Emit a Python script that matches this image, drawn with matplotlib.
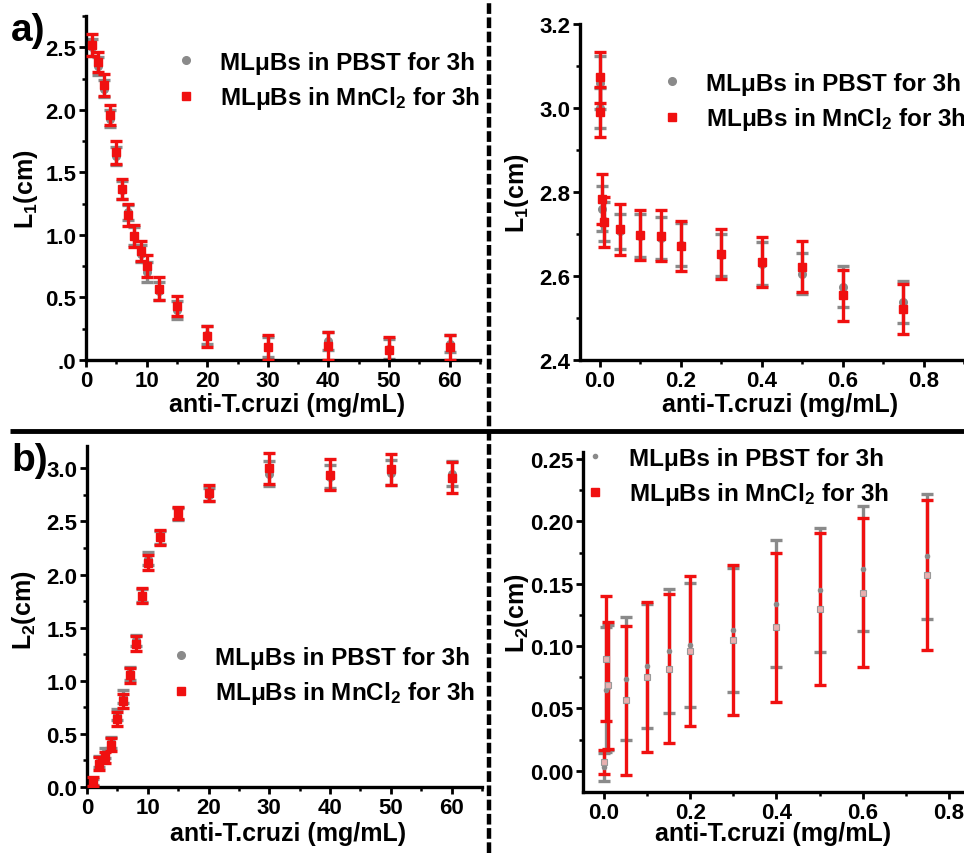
import matplotlib
matplotlib.use('Agg')
import matplotlib.pyplot as plt
from matplotlib.ticker import MultipleLocator, FuncFormatter

W, H = 964, 854
plt.rcParams['font.family'] = ['Liberation Sans', 'DejaVu Sans']
plt.rcParams['font.weight'] = 'bold'
plt.rcParams['mathtext.fontset'] = 'custom'
plt.rcParams['mathtext.rm'] = 'Liberation Sans:bold'
plt.rcParams['mathtext.bf'] = 'Liberation Sans:bold'
plt.rcParams['mathtext.it'] = 'Liberation Sans:bold'

RED = '#f01010'
GRAY = '#8a8a8a'
LBL_PBST = 'MLμBs in PBST for 3h'
LBL_MN = 'MLμBs in MnCl$_2$ for 3h'
XLABEL = 'anti-T.cruzi (mg/mL)'

# ---- panel a) left ----
a_x = [1, 2, 3, 4, 5, 6, 7, 8, 9, 10, 12, 15, 20, 30, 40, 50, 60]
a_red = [2.52, 2.38, 2.20, 1.96, 1.66, 1.37, 1.16, 0.99, 0.87, 0.75, 0.57, 0.43, 0.19, 0.10, 0.11, 0.08, 0.10]
a_red_err = [0.09, 0.08, 0.09, 0.08, 0.09, 0.08, 0.09, 0.09, 0.08, 0.09, 0.09, 0.08, 0.085, 0.10, 0.11, 0.10, 0.10]
a_gray = [2.50, 2.35, 2.17, 1.93, 1.63, 1.36, 1.18, 0.99, 0.85, 0.70, 0.55, 0.40, 0.20, 0.10, 0.15, 0.09, 0.13]
a_gray_err = [0.07, 0.07, 0.07, 0.07, 0.07, 0.07, 0.06, 0.07, 0.07, 0.08, 0.07, 0.07, 0.07, 0.08, 0.07, 0.08, 0.07]

# ---- panel a) right ----
ar_x = [0, 0.001, 0.005, 0.01, 0.05, 0.1, 0.15, 0.2, 0.3, 0.4, 0.5, 0.6, 0.75]
ar_red = [3.073, 2.99, 2.783, 2.728, 2.711, 2.698, 2.696, 2.672, 2.652, 2.634, 2.622, 2.554, 2.522]
ar_red_err = [0.06, 0.06, 0.06, 0.06, 0.06, 0.06, 0.06, 0.06, 0.06, 0.06, 0.061, 0.06, 0.06]
ar_gray = [3.06, 3.00, 2.76, 2.73, 2.706, 2.696, 2.69, 2.675, 2.65, 2.629, 2.605, 2.575, 2.537]
ar_gray_err = [0.063, 0.048, 0.054, 0.046, 0.041, 0.051, 0.05, 0.051, 0.05, 0.051, 0.049, 0.05, 0.05]

# ---- panel b) left ----
b_x = [1, 2, 3, 4, 5, 6, 7, 8, 9, 10, 12, 15, 20, 30, 40, 50, 60]
b_red = [0.05, 0.22, 0.28, 0.40, 0.64, 0.81, 1.05, 1.35, 1.80, 2.11, 2.35, 2.58, 2.77, 3.00, 2.94, 2.99, 2.91]
b_red_err = [0.04, 0.06, 0.05, 0.06, 0.07, 0.07, 0.07, 0.07, 0.07, 0.07, 0.07, 0.06, 0.075, 0.145, 0.145, 0.145, 0.145]
b_gray = [0.05, 0.24, 0.32, 0.42, 0.68, 0.85, 1.07, 1.38, 1.80, 2.15, 2.35, 2.57, 2.75, 2.95, 2.92, 2.96, 2.95]
b_gray_err = [0.03, 0.05, 0.05, 0.05, 0.05, 0.06, 0.06, 0.05, 0.06, 0.06, 0.06, 0.06, 0.06, 0.12, 0.11, 0.12, 0.12]

# ---- panel b) right ----
br_x = [0, 0.005, 0.01, 0.05, 0.1, 0.15, 0.2, 0.3, 0.4, 0.5, 0.6, 0.75]
br_red = [0.007, 0.090, 0.0686, 0.0565, 0.075, 0.082, 0.096, 0.105, 0.115, 0.130, 0.143, 0.157]
br_red_err = [0.0095, 0.05, 0.051, 0.06, 0.06, 0.06, 0.06, 0.06, 0.06, 0.061, 0.06, 0.06]
br_gray = [0.003, 0.065, 0.067, 0.074, 0.084, 0.096, 0.101, 0.113, 0.134, 0.145, 0.162, 0.172]
br_gray_err = [0.011, 0.05, 0.05, 0.049, 0.05, 0.05, 0.05, 0.05, 0.051, 0.0495, 0.05, 0.05]

fig = plt.figure(figsize=(W / 100, H / 100), dpi=100)


def px_axes(l, r, t, b):
    return fig.add_axes([l / W, 1 - b / H, (r - l) / W, (b - t) / H])


def panel(ax, x, red, rerr, gray, gerr, xlim, ylim, xmaj, ymaj, yfmt, ylabel,
          ylab_xy, xlab_xy, leg_px, small=False):
    ax.errorbar(x, gray, yerr=gerr, fmt='none', ecolor=GRAY, elinewidth=2.4,
                capsize=4, capthick=2.4, zorder=2)
    ax.errorbar(x, red, yerr=rerr, fmt='none', ecolor=RED, elinewidth=2.4,
                capsize=4, capthick=2.4, zorder=3)
    if small:
        hg, = ax.plot(x, gray, 'o', color=GRAY, ms=3, zorder=4, label=LBL_PBST)
        ax.plot(x, red, 's', mfc='#e8b0b0', mec='#999999', mew=0.8, ms=4, zorder=5)
        hr, = ax.plot([], [], 's', color=RED, ms=5.5, label=LBL_MN)
    else:
        hg, = ax.plot(x, gray, 'o', color=GRAY, ms=5.5, zorder=2.5, label=LBL_PBST)
        hr, = ax.plot(x, red, 's', color=RED, ms=5.5, zorder=4, label=LBL_MN)
    ax.set_xlim(*xlim)
    ax.set_ylim(*ylim)
    ax.xaxis.set_major_locator(MultipleLocator(xmaj))
    ax.xaxis.set_minor_locator(MultipleLocator(xmaj / 2))
    ax.yaxis.set_major_locator(MultipleLocator(ymaj))
    ax.yaxis.set_minor_locator(MultipleLocator(ymaj / 2))
    ax.yaxis.set_major_formatter(FuncFormatter(yfmt))
    for s in ('top', 'right'):
        ax.spines[s].set_visible(False)
    for s in ('left', 'bottom'):
        ax.spines[s].set_linewidth(2.4)
    ax.tick_params(which='major', direction='out', length=5, width=2, pad=2)
    ax.tick_params(which='minor', direction='out', length=3, width=1.8)
    for t in ax.get_xticklabels():
        t.set_fontsize(16)
        t.set_fontweight('bold')
    for t in ax.get_yticklabels():
        t.set_fontsize(16)
        t.set_fontweight('bold')
    ax.set_ylabel(ylabel, fontsize=18, fontweight='bold')
    ax.yaxis.set_label_coords(*ylab_xy)
    ax.set_xlabel(XLABEL, fontsize=18, fontweight='bold')
    ax.xaxis.set_label_coords(*xlab_xy)
    ax.legend(handles=[hg, hr], loc='upper left',
              bbox_to_anchor=(leg_px[0] / W, 1 - leg_px[1] / H),
              bbox_transform=fig.transFigure, frameon=False,
              borderpad=0, borderaxespad=0, handlelength=1.0,
              handletextpad=0.88, labelspacing=0.42,
              prop={'size': 17.5, 'weight': 'bold'})
    return ax


def f1(v, p):
    return '.0' if abs(v) < 1e-9 else '%.1f' % v


def f1z(v, p):
    return '%.1f' % v


def f2(v, p):
    return '%.2f' % v


ax1 = px_axes(86, 480, 17, 361)
panel(ax1, a_x, a_red, a_red_err, a_gray, a_gray_err, (0, 65), (0, 2.75), 10, 0.5, f1,
      'L$_1$(cm)', (-0.117, 0.5), (0.51, -0.093), (174, 52))

ax2 = px_axes(580, 964, 25, 361)
panel(ax2, ar_x, ar_red, ar_red_err, ar_gray, ar_gray_err, (-0.0495, 0.9), (2.4, 3.2), 0.2, 0.2, f1z,
      'L$_1$(cm)', (-0.128, 0.5), (0.52, -0.095), (660, 73))

ax3 = px_axes(87, 482, 447, 788)
panel(ax3, b_x, b_red, b_red_err, b_gray, b_gray_err, (0, 65), (0, 3.21), 10, 0.5, f1z,
      'L$_2$(cm)', (-0.124, 0.52), (0.51, -0.10), (169, 647))

ax4 = px_axes(583, 964, 453, 793)
panel(ax4, br_x, br_red, br_red_err, br_gray, br_gray_err, (-0.0487, 0.835), (-0.017, 0.2557), 0.2, 0.05, f2,
      'L$_2$(cm)', (-0.136, 0.53), (0.5, -0.085), (583, 448), small=True)

# panel labels
fig.text(11 / W, 1 - 41 / H, 'a)', fontsize=28, fontweight='bold', ha='left', va='baseline')
fig.text(11 / W, 1 - 471 / H, 'b)', fontsize=28, fontweight='bold', ha='left', va='baseline')

# separators
fig.add_artist(plt.Line2D([10 / W, 1], [1 - 432 / H, 1 - 432 / H], transform=fig.transFigure,
                          color='black', lw=3.5, solid_capstyle='butt'))
fig.add_artist(plt.Line2D([489 / W, 489 / W], [0, 1], transform=fig.transFigure,
                          color='black', lw=3.2, dashes=(2.4, 0.8)))

fig.savefig('out.png', dpi=100)
